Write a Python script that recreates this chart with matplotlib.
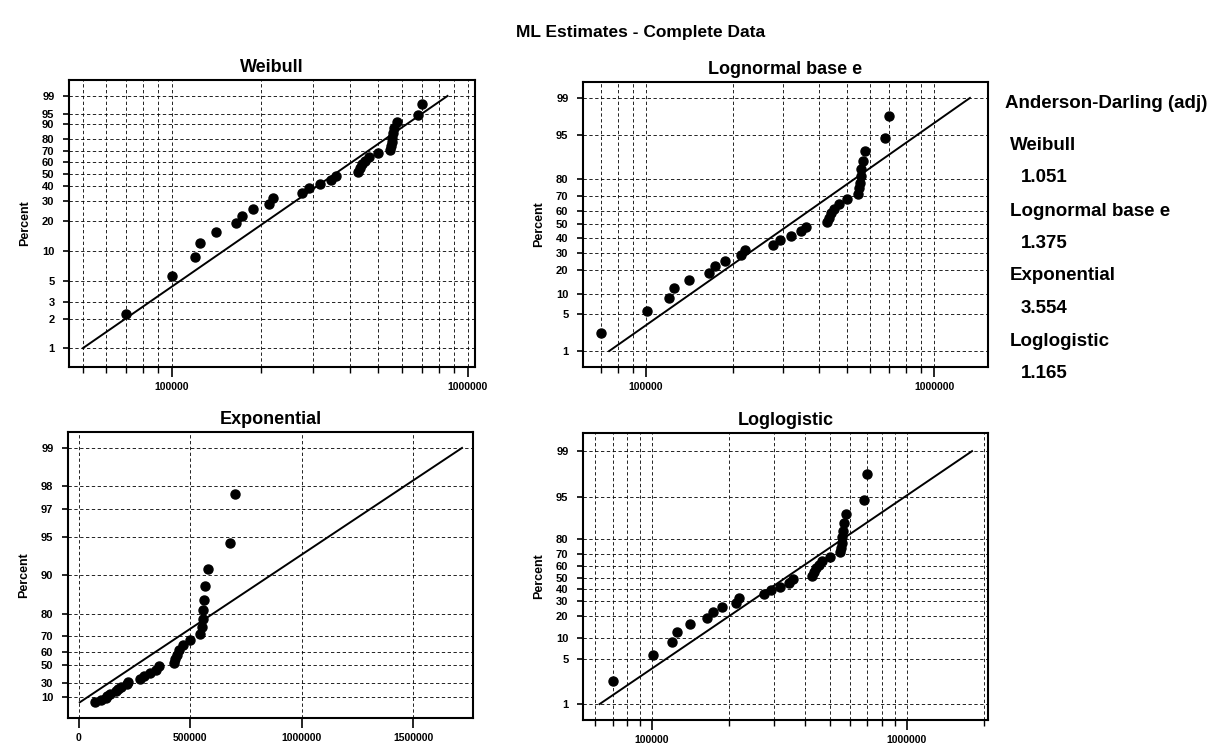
"""Four-way probability plot (Minitab style): ML estimates, complete data."""
import math
import numpy as np
import matplotlib
matplotlib.use("Agg")
import matplotlib.pyplot as plt

plt.rcParams["font.family"] = ["Liberation Sans", "DejaVu Sans"]
plt.rcParams["font.weight"] = "bold"

# failure times (sorted)
times = [70000, 100500, 120000, 125000, 141000, 165000, 173000, 188000,
         214000, 220000, 275000, 292000, 318000, 345000, 358000, 425000,
         432000, 440000, 450000, 466000, 497000, 545000, 551000, 555000,
         557000, 560000, 565000, 578000, 678000, 700000]
# median-rank plotting positions (%)
percent = [2.30, 5.59, 8.88, 12.17, 15.46, 18.75, 22.04, 25.33, 28.62,
           31.91, 35.20, 38.49, 41.78, 45.07, 48.36, 51.64, 54.93, 58.22,
           61.51, 64.80, 68.09, 71.38, 74.67, 77.96, 81.25, 84.54, 87.83,
           91.12, 94.41, 97.70]

# fitted ML parameters (as drawn)
wb_shape, wb_scale = 2.16, 422000
ln_mu, ln_sigma = math.log(315000), 0.62
ex_mean = 373000
ll_mu, ll_scale = math.log(335000), 0.366

ad_names = ["Weibull", "Lognormal base e", "Exponential", "Loglogistic"]
ad_values = ["1.051", "1.375", "3.554", "1.165"]

wb_yticks = [1, 2, 3, 5, 10, 20, 30, 40, 50, 60, 70, 80, 90, 95, 99]
ln_yticks = [1, 5, 10, 20, 30, 40, 50, 60, 70, 80, 95, 99]
ex_yticks = [10, 30, 50, 60, 70, 80, 90, 95, 97, 98, 99]
ll_yticks = [1, 5, 10, 20, 30, 40, 50, 60, 70, 80, 95, 99]
ex_xticks = [0, 500000, 1000000, 1500000]

_erf = np.vectorize(math.erf, otypes=[float])


def norm_cdf(z):
    z = np.asarray(z, float)
    if z.size == 0:
        return z.copy()
    return 0.5 * (1 + _erf(z / math.sqrt(2)))


def norm_ppf(p):
    p = np.asarray(p, float)
    if p.size == 0:
        return p.copy()
    lo = np.full(p.shape, -12.0); hi = np.full(p.shape, 12.0)
    for _ in range(60):
        mid = (lo + hi) / 2
        below = norm_cdf(mid) < p
        lo = np.where(below, mid, lo); hi = np.where(below, hi, mid)
    return (lo + hi) / 2


def clip(p):
    return np.clip(np.asarray(p, float) / 100, 1e-12, 1 - 1e-12)


# y-axis probability scales (percent in, transformed out)
wb_fun = (lambda p: np.log(-np.log(1 - clip(p))),
          lambda y: 100 * (1 - np.exp(-np.exp(np.asarray(y, float)))))
ln_fun = (lambda p: norm_ppf(clip(p)),
          lambda y: 100 * norm_cdf(y))
ex_fun = (lambda p: -np.log(1 - np.minimum(np.asarray(p, float) / 100, 1 - 1e-12)),
          lambda y: 100 * (1 - np.exp(-np.asarray(y, float))))
ll_fun = (lambda p: np.log(clip(p) / (1 - clip(p))),
          lambda y: 100 / (1 + np.exp(-np.asarray(y, float))))

ends = np.array([1.0, 99.0])
wb_line = wb_scale * (-np.log(1 - ends / 100)) ** (1 / wb_shape)
ln_line = np.exp(ln_mu + ln_sigma * norm_ppf(ends / 100))
ex_line = ex_mean * (-np.log(1 - ends / 100))
ll_line = np.exp(ll_mu + ll_scale * np.log(ends / (100 - ends)))

fig = plt.figure(figsize=(12.22, 7.46), dpi=100)
W, H = 1222, 746


def box(x0, y0, x1, y1):
    return [x0 / W, 1 - y1 / H, (x1 - x0) / W, (y1 - y0) / H]


GRID = dict(color="black", linestyle=(0, (4, 3)), linewidth=0.6)

panels = [
    ("Weibull", box(69, 80, 475, 367), wb_fun, wb_line, wb_yticks,
     (45000, 1.06e6), (0.633, 99.887)),
    ("Lognormal base e", box(583, 82, 988, 367), ln_fun, ln_line, ln_yticks,
     (60400, 1.54e6), (0.44, 99.56)),
    ("Exponential", box(68, 432, 473, 718), ex_fun, ex_line, ex_yticks,
     (-49000, 1.767e6), (-31.4, 99.25)),
    ("Loglogistic", box(583, 433, 988, 720), ll_fun, ll_line, ll_yticks,
     (53600, 2.08e6), (0.562, 99.48)),
]

for name, rect, fun, xline, yticks, xlim, ylim in panels:
    ax = fig.add_axes(rect)
    ax.set_yscale("function", functions=fun)
    if name != "Exponential":
        ax.set_xscale("log")
        ax.set_xticks([1e5, 1e6], ["100000", "1000000"])
        ax.xaxis.set_minor_locator(matplotlib.ticker.LogLocator(
            base=10, subs=np.arange(2, 10)))
        ax.xaxis.set_minor_formatter(matplotlib.ticker.NullFormatter())
    else:
        ax.set_xticks(ex_xticks, [str(v) for v in ex_xticks])
    ax.set_yticks(yticks, [str(v) for v in yticks])
    ax.yaxis.set_minor_locator(matplotlib.ticker.NullLocator())
    ax.set_xlim(*xlim); ax.set_ylim(*ylim)

    ax.plot(xline, ends, color="black", linewidth=1.4, zorder=3)
    ax.plot(times, percent, "o", color="black", markersize=6.5, zorder=4)

    ax.grid(True, which="both", axis="x", **GRID)
    ax.grid(True, which="major", axis="y", **GRID)
    for s in ax.spines.values():
        s.set_linewidth(1.5)
    ax.tick_params(axis="x", which="major", length=7, width=1.2,
                   labelsize=7.5, pad=4)
    ax.tick_params(axis="x", which="minor", length=4, width=1.0)
    ax.tick_params(axis="y", which="major", length=4.5, width=1.2,
                   labelsize=8, pad=6)
    ax.set_title(name, fontsize=13, fontweight="bold", pad=6)
    ax.set_ylabel("Percent", fontsize=9, fontweight="bold", labelpad=8)

fig.text(641 / W, 1 - 33 / H, "ML Estimates - Complete Data",
         ha="center", va="center", fontsize=12.5, fontweight="bold")

fig.text(1005 / W, 1 - 104 / H, "Anderson-Darling (adj)",
         ha="left", va="center", fontsize=13.5, fontweight="bold")
for i, (nm, val) in enumerate(zip(ad_names, ad_values)):
    y = 146 + i * 65
    fig.text(1010 / W, 1 - y / H, nm, ha="left", va="center",
             fontsize=13.5, fontweight="bold")
    fig.text(1021 / W, 1 - (y + 32) / H, val, ha="left", va="center",
             fontsize=13.5, fontweight="bold")

fig.savefig("out.png", dpi=100)
